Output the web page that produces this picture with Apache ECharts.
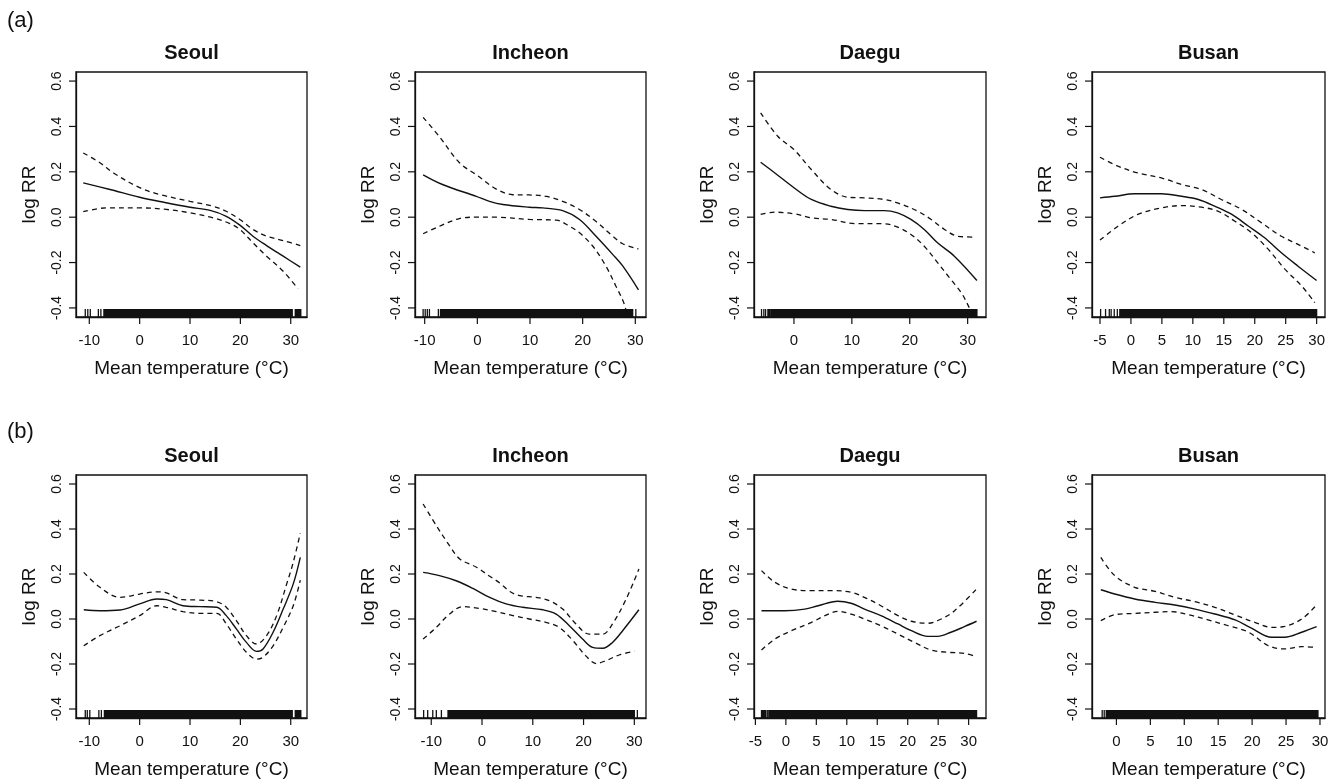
<!DOCTYPE html>
<html>
<head>
<meta charset="utf-8">
<script src="https://cdn.jsdelivr.net/npm/echarts@6/dist/echarts.min.js"></script>
<style>
html, body { margin: 0; background: #fff; }
#chart { width: 1339px; height: 781px; }
</style>
</head>
<body>
<div id="chart"></div>
<script>
const cities = ['Seoul', 'Incheon', 'Daegu', 'Busan'];
const yTicks = [-0.4, -0.2, 0.0, 0.2, 0.4, 0.6];

// (a) Seoul
const aSeoulFit = [[-11.2,0.151],[-5.9,0.122],[0,0.088],[5,0.065],[10,0.044],[14,0.03],[17.2,0.004],[19.9,-0.035],[22.5,-0.084],[25.2,-0.125],[28.5,-0.172],[31.9,-0.22]];
const aSeoulHigh = [[-11.2,0.283],[-7.9,0.24],[-5.2,0.195],[0,0.13],[4,0.10],[10,0.07],[14.6,0.048],[17.2,0.026],[19.9,-0.01],[22.5,-0.054],[25.2,-0.084],[28.5,-0.103],[31.9,-0.125]];
const aSeoulLow = [[-11.2,0.024],[-6.6,0.041],[0,0.041],[5.3,0.034],[10,0.019],[14.6,-0.003],[17.9,-0.028],[19.9,-0.054],[22.5,-0.113],[25.2,-0.172],[28.5,-0.238],[31.4,-0.315]];
const aSeoulRugTicks = [-10.8,-10.3,-9.8,-8.2,-7.7];
const aSeoulRugBands = [[-7.1,30.3],[30.9,32.0]];

// (a) Incheon
const aIncheonFit = [[-10.3,0.187],[-6.5,0.143],[-0.2,0.092],[2.3,0.07],[4.85,0.056],[9.9,0.044],[12.4,0.041],[16.2,0.029],[19.4,-0.01],[22.5,-0.083],[25.7,-0.164],[27.6,-0.215],[30.6,-0.32]];
const aIncheonHigh = [[-10.3,0.44],[-7.2,0.355],[-3.4,0.24],[-0.2,0.187],[3.6,0.124],[6.7,0.099],[9.9,0.098],[13.1,0.092],[16.2,0.07],[19.4,0.034],[22.5,-0.018],[25.7,-0.083],[27.6,-0.117],[30.6,-0.14]];
const aIncheonLow = [[-10.3,-0.073],[-7.2,-0.04],[-3.4,-0.006],[-0.2,0],[3.6,0],[9.9,-0.01],[15,-0.013],[17.5,-0.04],[19.4,-0.069],[21.9,-0.127],[24.4,-0.215],[26.3,-0.303],[27.9,-0.383],[28.6,-0.45]];
const aIncheonRugTicks = [-10.3,-9.9,-9.5,-9.1,-7.4,30.1];
const aIncheonRugBands = [[-7.0,29.5]];

// (a) Daegu
const aDaeguFit = [[-5.75,0.242],[-3.3,0.195],[0,0.13],[3,0.078],[6.4,0.048],[9.3,0.034],[12.2,0.029],[15.6,0.029],[17.9,0.019],[20.2,-0.01],[22.5,-0.054],[24.8,-0.113],[27.7,-0.172],[31.6,-0.279]];
const aDaeguHigh = [[-5.75,0.46],[-2.8,0.357],[0,0.298],[3,0.21],[6.4,0.122],[9.3,0.088],[12.2,0.085],[15.6,0.078],[17.9,0.063],[21.4,0.026],[23.7,-0.01],[26,-0.054],[28.3,-0.084],[31.4,-0.088]];
const aDaeguLow = [[-5.75,0.012],[-3.3,0.022],[0,0.015],[3,-0.003],[6.4,-0.01],[10.5,-0.028],[15.6,-0.029],[17.9,-0.044],[20.2,-0.076],[22.5,-0.128],[24.8,-0.2],[27.1,-0.275],[28.9,-0.333],[30.3,-0.4],[30.9,-0.436]];
const aDaeguRugTicks = [-5.6,-5.2,-4.9];
const aDaeguRugBands = [[-4.5,-4.2],[-4.0,31.6]];

// (a) Busan
const aBusanFit = [[-5,0.085],[-2.6,0.092],[0.6,0.103],[4.9,0.103],[8.2,0.092],[10.9,0.078],[13.6,0.048],[16.3,0.012],[19,-0.04],[21.6,-0.091],[24.3,-0.157],[27,-0.216],[30,-0.279]];
const aBusanHigh = [[-5,0.264],[-2.1,0.225],[1.1,0.195],[4.9,0.173],[8.2,0.144],[11.4,0.122],[14.6,0.078],[17.9,0.034],[21.1,-0.025],[24.3,-0.084],[27,-0.12],[29.7,-0.157]];
const aBusanLow = [[-5,-0.101],[-2.1,-0.04],[1.1,0.012],[4.9,0.041],[8.2,0.051],[11.4,0.044],[14.1,0.026],[16.8,-0.018],[19.5,-0.069],[22.2,-0.142],[24.9,-0.23],[27.6,-0.304],[29.7,-0.377]];
const aBusanRugTicks = [-4.9,-4.1,-3.5,-3.2,-2.7,-2.2];
const aBusanRugBands = [[-1.8,30.0]];

// (b) Seoul
const bSeoulFit = [[-11.1,0.041],[-7.9,0.037],[-3.9,0.04],[0,0.067],[3.4,0.089],[5.3,0.086],[8.6,0.059],[12,0.055],[15.3,0.052],[17.2,0.015],[19.2,-0.044],[21.2,-0.104],[23.2,-0.144],[24.5,-0.133],[26.5,-0.059],[28.5,0.044],[30.5,0.156],[31.9,0.274]];
const bSeoulHigh = [[-11.1,0.207],[-7.9,0.141],[-3.9,0.096],[0,0.111],[3.4,0.121],[5.3,0.116],[8.6,0.086],[12,0.084],[15.3,0.077],[17.2,0.052],[19.2,-0.007],[21.2,-0.074],[23.2,-0.111],[25.2,-0.074],[27.2,0.015],[29.2,0.156],[30.5,0.252],[31.9,0.382]];
const bSeoulLow = [[-11.1,-0.119],[-7.9,-0.074],[-3.9,-0.03],[0,0.015],[3.4,0.059],[5.3,0.052],[8.6,0.033],[12,0.025],[15.3,0.025],[17.2,-0.022],[19.2,-0.089],[21.2,-0.148],[23.2,-0.178],[24.5,-0.17],[26.5,-0.119],[28.5,-0.037],[30.5,0.059],[31.9,0.173]];
const bSeoulRugTicks = [-10.8,-10.4,-9.9,-8.1,-7.6];
const bSeoulRugBands = [[-7.0,30.3],[30.9,32.0]];

// (b) Incheon
const bIncheonFit = [[-11.6,0.207],[-8.4,0.193],[-5.1,0.17],[-1.8,0.136],[1.5,0.096],[4.75,0.067],[8,0.052],[12,0.041],[14.6,0.022],[17.2,-0.03],[19.8,-0.089],[21.8,-0.126],[23.8,-0.13],[25.7,-0.104],[27.7,-0.052],[30.9,0.041]];
const bIncheonHigh = [[-11.6,0.511],[-9,0.415],[-6.4,0.326],[-4.4,0.267],[-1.1,0.23],[1.5,0.19],[3.5,0.16],[5.5,0.122],[7.4,0.104],[10.7,0.096],[13.3,0.081],[15.9,0.044],[18.5,-0.022],[21.1,-0.067],[23.8,-0.067],[25.7,-0.022],[28.4,0.089],[30.9,0.222]];
const bIncheonLow = [[-11.6,-0.089],[-9,-0.037],[-6.4,0.022],[-3.8,0.055],[-0.5,0.047],[2.8,0.033],[6.1,0.015],[9.3,0],[12.6,-0.015],[15.2,-0.037],[17.9,-0.096],[20.5,-0.165],[22.5,-0.198],[24.4,-0.185],[27,-0.16],[30,-0.143]];
const bIncheonRugTicks = [-11.5,-10.7,-9.7,-9.0,-8.0,30.6];
const bIncheonRugBands = [[-6.7,30.0]];

// (b) Daegu
const bDaeguFit = [[-4,0.037],[-0.2,0.037],[3.1,0.044],[5.3,0.059],[8.5,0.079],[10.7,0.07],[12.9,0.044],[15.6,0.015],[18.4,-0.022],[20.6,-0.052],[23.3,-0.077],[24.9,-0.077],[27.1,-0.059],[29.3,-0.034],[31.3,-0.01]];
const bDaeguHigh = [[-4,0.215],[-1.8,0.163],[0.9,0.133],[4.2,0.126],[7.5,0.126],[10.7,0.119],[12.9,0.096],[15.6,0.059],[18.4,0.015],[20.6,-0.01],[23.3,-0.019],[25.5,0],[27.7,0.037],[31.3,0.133]];
const bDaeguLow = [[-4,-0.138],[-1.8,-0.089],[0.9,-0.052],[4.2,-0.015],[6.4,0.015],[8.5,0.034],[10.7,0.022],[12.9,0],[15.6,-0.03],[18.4,-0.067],[21.1,-0.104],[23.8,-0.138],[26.6,-0.148],[29.3,-0.153],[31.3,-0.167]];
const bDaeguRugTicks = [-3.05];
const bDaeguRugBands = [[-4.0,-3.3],[-2.8,31.3]];

// (b) Busan
const bBusanFit = [[-2.3,0.13],[-0.25,0.111],[2.7,0.089],[5.7,0.074],[8.6,0.062],[11.6,0.044],[14.5,0.022],[17.5,-0.004],[19.9,-0.041],[22.9,-0.081],[24.8,-0.081],[27.3,-0.059],[29.5,-0.034]];
const bBusanHigh = [[-2.3,0.274],[-0.25,0.193],[2.7,0.141],[5.7,0.123],[8.6,0.096],[11.6,0.077],[14.5,0.052],[17.5,0.018],[20.4,-0.015],[22.9,-0.037],[24.8,-0.033],[27.3,0],[29.5,0.062]];
const bBusanLow = [[-2.3,-0.007],[-0.25,0.019],[2.7,0.025],[5.7,0.03],[8.1,0.033],[10.6,0.019],[13.5,-0.004],[16.5,-0.03],[19.5,-0.059],[22.4,-0.119],[24.8,-0.133],[27.3,-0.123],[29.3,-0.126]];
const bBusanRugTicks = [-2.1,-1.8];
const bBusanRugBands = [[-1.5,29.7]];

// x tick labels per panel
const xTicks10 = [-10, 0, 10, 20, 30];
const xTicks0 = [0, 10, 20, 30];
const xTicks5 = [-5, 0, 5, 10, 15, 20, 25, 30];
const xTicks5b = [0, 5, 10, 15, 20, 25, 30];

const Y_MIN = -0.44, Y_MAX = 0.64;
const TICK_LEN = 7;
const FONT = '"Liberation Sans", Arial, sans-serif';
const INK = '#111';

const colLeft = [76, 415, 754, 1092];
const colWidth = [231, 231, 232, 233];
const rowTop = [72, 475];
const rowHeight = [245, 243];

const panels = [
    { row: 0, col: 0, xr: [-12.64, 33.23], ticks: xTicks10, fit: aSeoulFit, hi: aSeoulHigh, lo: aSeoulLow, rugT: aSeoulRugTicks, rugB: aSeoulRugBands },
    { row: 0, col: 1, xr: [-11.84, 32.03], ticks: xTicks10, fit: aIncheonFit, hi: aIncheonHigh, lo: aIncheonLow, rugT: aIncheonRugTicks, rugB: aIncheonRugBands },
    { row: 0, col: 2, xr: [-6.9, 33.17], ticks: xTicks0, fit: aDaeguFit, hi: aDaeguHigh, lo: aDaeguLow, rugT: aDaeguRugTicks, rugB: aDaeguRugBands },
    { row: 0, col: 3, xr: [-6.29, 31.35], ticks: xTicks5, fit: aBusanFit, hi: aBusanHigh, lo: aBusanLow, rugT: aBusanRugTicks, rugB: aBusanRugBands },
    { row: 1, col: 0, xr: [-12.64, 33.23], ticks: xTicks10, fit: bSeoulFit, hi: bSeoulHigh, lo: bSeoulLow, rugT: bSeoulRugTicks, rugB: bSeoulRugBands },
    { row: 1, col: 1, xr: [-13.2, 32.3], ticks: xTicks10, fit: bIncheonFit, hi: bIncheonHigh, lo: bIncheonLow, rugT: bIncheonRugTicks, rugB: bIncheonRugBands },
    { row: 1, col: 2, xr: [-5.23, 32.85], ticks: xTicks5, fit: bDaeguFit, hi: bDaeguHigh, lo: bDaeguLow, rugT: bDaeguRugTicks, rugB: bDaeguRugBands },
    { row: 1, col: 3, xr: [-3.6, 30.74], ticks: xTicks5b, fit: bBusanFit, hi: bBusanHigh, lo: bBusanLow, rugT: bBusanRugTicks, rugB: bBusanRugBands }
];

// rug: filled strip from the frame bottom, one item per band or single mark
function rugItem(params, api) {
    const p0 = api.coord([api.value(0), Y_MIN]);
    const p1 = api.coord([api.value(1), Y_MIN]);
    const w = Math.max(p1[0] - p0[0], 0) + 1.3;
    return {
        type: 'rect',
        shape: { x: p0[0] - 0.65, y: p0[1] - 8, width: w, height: 8 },
        style: { fill: INK }
    };
}

// outward tick marks, placed by the axes' own scales
function xTickItem(params, api) {
    const p = api.coord([api.value(0), Y_MIN]);
    return {
        type: 'line',
        shape: { x1: p[0], y1: p[1], x2: p[0], y2: p[1] + TICK_LEN },
        style: { stroke: INK, lineWidth: 1.2 }
    };
}

function makeYTickItem(xMin) {
    return function (params, api) {
        const p = api.coord([xMin, api.value(0)]);
        return {
            type: 'line',
            shape: { x1: p[0], y1: p[1], x2: p[0] - TICK_LEN, y2: p[1] },
            style: { stroke: INK, lineWidth: 1.2 }
        };
    };
}

const grid = [], xAxis = [], yAxis = [], series = [], title = [];

title.push({ text: '(a)', left: 7, top: 10, padding: 0, textStyle: { fontFamily: FONT, fontSize: 22, fontWeight: 'normal', color: INK } });
title.push({ text: '(b)', left: 7, top: 421, padding: 0, textStyle: { fontFamily: FONT, fontSize: 22, fontWeight: 'normal', color: INK } });

panels.forEach((p, i) => {
    const left = colLeft[p.col], top = rowTop[p.row];
    const width = colWidth[p.col], height = rowHeight[p.row];

    grid.push({ left, top, width, height, show: true, borderColor: INK, borderWidth: 1.3, backgroundColor: 'transparent' });

    title.push({
        text: cities[p.col],
        left: left + width / 2,
        top: top - 29,
        textAlign: 'center',
        padding: 0,
        textStyle: { fontFamily: FONT, fontSize: 20, fontWeight: 'bold', color: INK }
    });

    xAxis.push({
        gridIndex: i, type: 'value', min: p.xr[0], max: p.xr[1],
        name: 'Mean temperature (°C)', nameLocation: 'middle', nameGap: 42,
        nameTextStyle: { fontFamily: FONT, fontSize: 19, color: INK },
        axisLine: { show: true, onZero: false, lineStyle: { color: INK, width: 1.3 } },
        splitLine: { show: false },
        axisTick: { show: false },
        axisLabel: { customValues: p.ticks, color: INK, formatter: v => String(v), fontFamily: FONT, fontSize: 15, margin: 16 }
    });

    yAxis.push({
        gridIndex: i, type: 'value', min: Y_MIN, max: Y_MAX,
        name: 'log RR', nameLocation: 'middle', nameGap: 37, nameRotate: 90,
        nameTextStyle: { fontFamily: FONT, fontSize: 19, color: INK },
        axisLine: { show: true, onZero: false, lineStyle: { color: INK, width: 1.3 } },
        splitLine: { show: false },
        axisTick: { show: false },
        axisLabel: { customValues: yTicks, color: INK, formatter: v => v.toFixed(1), fontFamily: FONT, fontSize: 14, margin: 12, rotate: 90 }
    });

    const common = { type: 'line', xAxisIndex: i, yAxisIndex: i, symbol: 'none', smooth: 0.35 };
    series.push(Object.assign({}, common, { data: p.hi, lineStyle: { color: INK, width: 1.3, type: [5, 4] } }));
    series.push(Object.assign({}, common, { data: p.lo, lineStyle: { color: INK, width: 1.3, type: [5, 4] } }));
    series.push(Object.assign({}, common, { data: p.fit, lineStyle: { color: INK, width: 1.4 } }));

    const rugData = p.rugB.concat(p.rugT.map(t => [t, t]));
    series.push({
        type: 'custom', xAxisIndex: i, yAxisIndex: i,
        renderItem: rugItem,
        encode: { x: [0, 1] },
        data: rugData
    });

    series.push({
        type: 'custom', xAxisIndex: i, yAxisIndex: i, clip: false, z: 5,
        renderItem: xTickItem,
        encode: { x: 0 },
        data: p.ticks.map(v => [v])
    });

    series.push({
        type: 'custom', xAxisIndex: i, yAxisIndex: i, clip: false, z: 5,
        renderItem: makeYTickItem(p.xr[0]),
        encode: { y: 0 },
        data: yTicks.map(v => [v])
    });
});

const chart = echarts.init(document.getElementById('chart'));
chart.setOption({
    animation: false,
    title, grid, xAxis, yAxis, series
});
</script>
</body>
</html>
